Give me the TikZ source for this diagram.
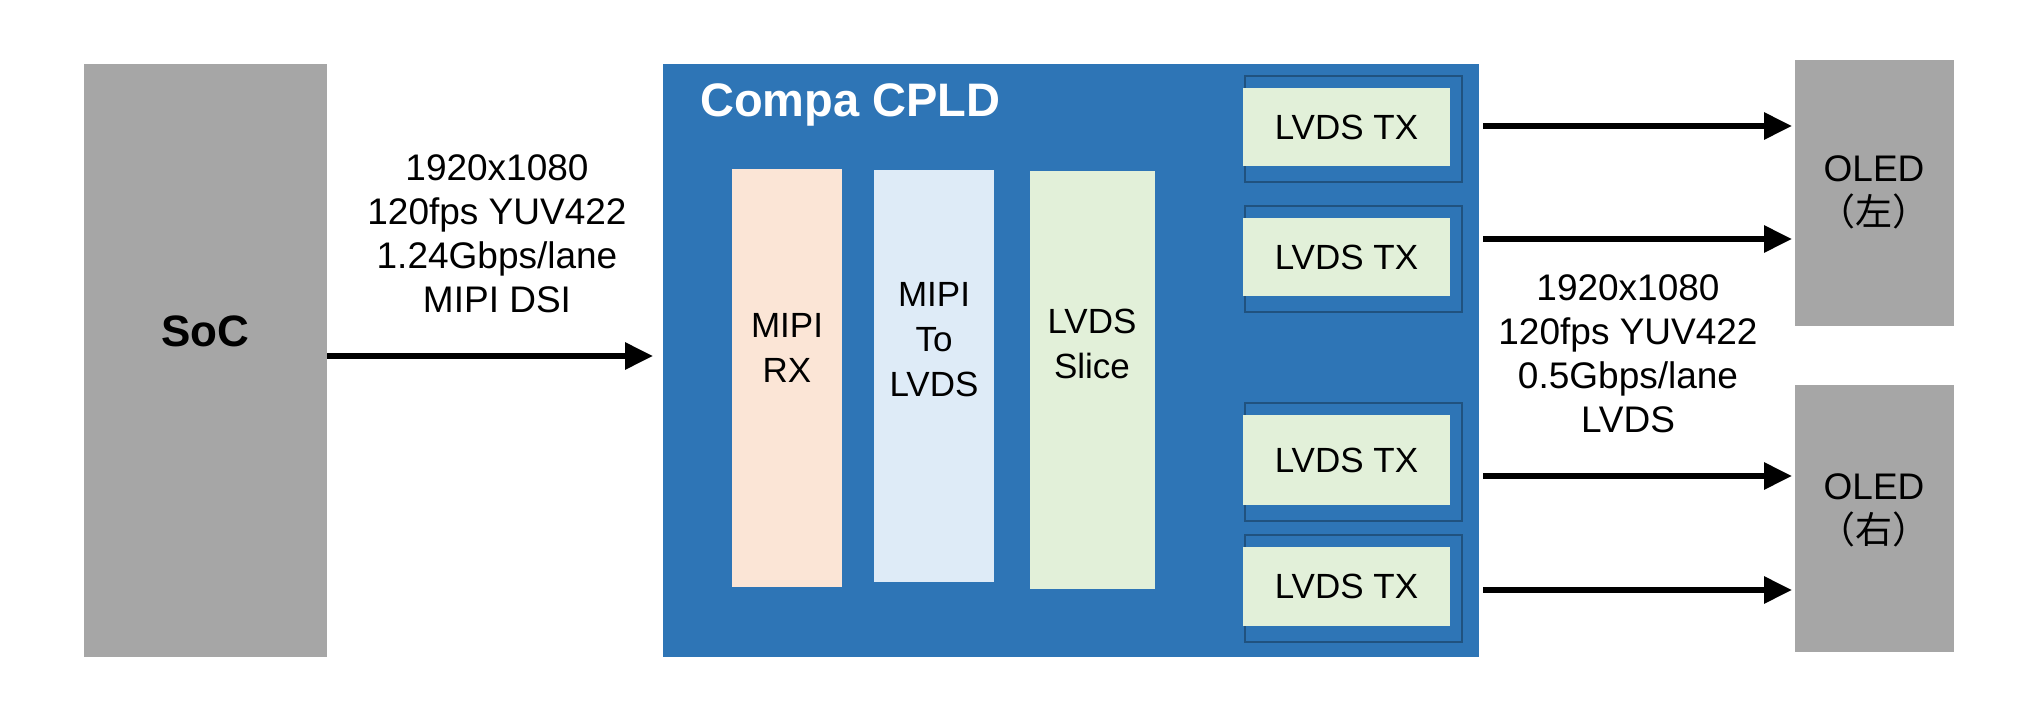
\documentclass[tikz,border=0pt]{standalone}
\usepackage{fontspec}
\setmainfont{Liberation Sans}
\newfontfamily\cjk{Noto Sans CJK SC}
\usetikzlibrary{arrows.meta}
\definecolor{cpld}{HTML}{2E75B6}
\definecolor{peach}{HTML}{FBE5D6}
\definecolor{lblue}{HTML}{DEEBF7}
\definecolor{lgreen}{HTML}{E2F0D9}
\definecolor{gry}{HTML}{A6A6A6}
\begin{document}
\begin{tikzpicture}[x=1pt,y=-1pt,
  box/.style={draw=none,inner sep=0,outer sep=0,anchor=north west},
  txt/.style={align=center,inner sep=0,font=\fontsize{35}{45}\selectfont},
  lbl/.style={align=center,inner sep=0,font=\fontsize{37}{44}\selectfont},
  arr/.style={line width=6pt,-{Triangle[length=28pt,width=26pt]}}]
\useasboundingbox (0,0) rectangle (2032,717);
% SoC
\node[box,fill=gry,minimum width=243pt,minimum height=593pt] (soc) at (84,64) {};
\node[font=\bfseries\fontsize{44}{50}\selectfont,inner sep=0] (soct) at (205,331) {SoC};
% CPLD
\node[box,fill=cpld,minimum width=816pt,minimum height=593pt] (cpld) at (663,64) {};
\node[font=\bfseries\fontsize{47}{50}\selectfont,inner sep=0,text=white,anchor=west] (cpldt) at (700,105) {Compa CPLD};
\node[box,fill=peach,minimum width=110pt,minimum height=418pt] (rx) at (732,169) {};
\node[txt] (rxt) at (787,348) {MIPI\\RX};
\node[box,fill=lblue,minimum width=120pt,minimum height=412pt] (m2l) at (874,170) {};
\node[txt] (m2lt) at (934,340) {MIPI\\To\\LVDS};
\node[box,fill=lgreen,minimum width=125pt,minimum height=418pt] (sl) at (1030,171) {};
\node[txt] (slt) at (1092,344) {LVDS\\Slice};
% LVDS TX
\foreach \n/\y/\h in {1/88/78,2/218/78,3/415/90,4/547/79}{
  \draw[draw=black!30!cpld,line width=1.5pt] (1245,\y-12) rectangle (1462,\y+\h+16);
  \node[box,fill=lgreen,minimum width=207pt,minimum height=\h pt] (tx\n) at (1243,\y) {};
  \node[txt] (tx\n t) at (tx\n.center) {LVDS TX};
}
% OLED
\node[box,fill=gry,minimum width=159pt,minimum height=266pt] (oledl) at (1795,60) {};
\node[lbl] (oledlt) at (1874,192) {OLED\\{\cjk （左）}};
\node[box,fill=gry,minimum width=159pt,minimum height=267pt] (oledr) at (1795,385) {};
\node[lbl] (oledrt) at (1874,510) {OLED\\{\cjk （右）}};
% labels
\node[lbl] (l1) at (497,234) {1920x1080\\120fps YUV422\\1.24Gbps/lane\\MIPI DSI};
\node[lbl] (l2) at (1628,354) {1920x1080\\120fps YUV422\\0.5Gbps/lane\\LVDS};
% arrows
\coordinate (a0) at (327,356); \coordinate (b0) at (653,356);
\draw[arr] (a0) -- (b0);
\foreach \n/\y in {1/126,2/239,3/476,4/590}{
  \coordinate (a\n) at (1483,\y); \coordinate (b\n) at (1792,\y);
  \draw[arr] (a\n) -- (b\n);
}
\end{tikzpicture}
\end{document}
